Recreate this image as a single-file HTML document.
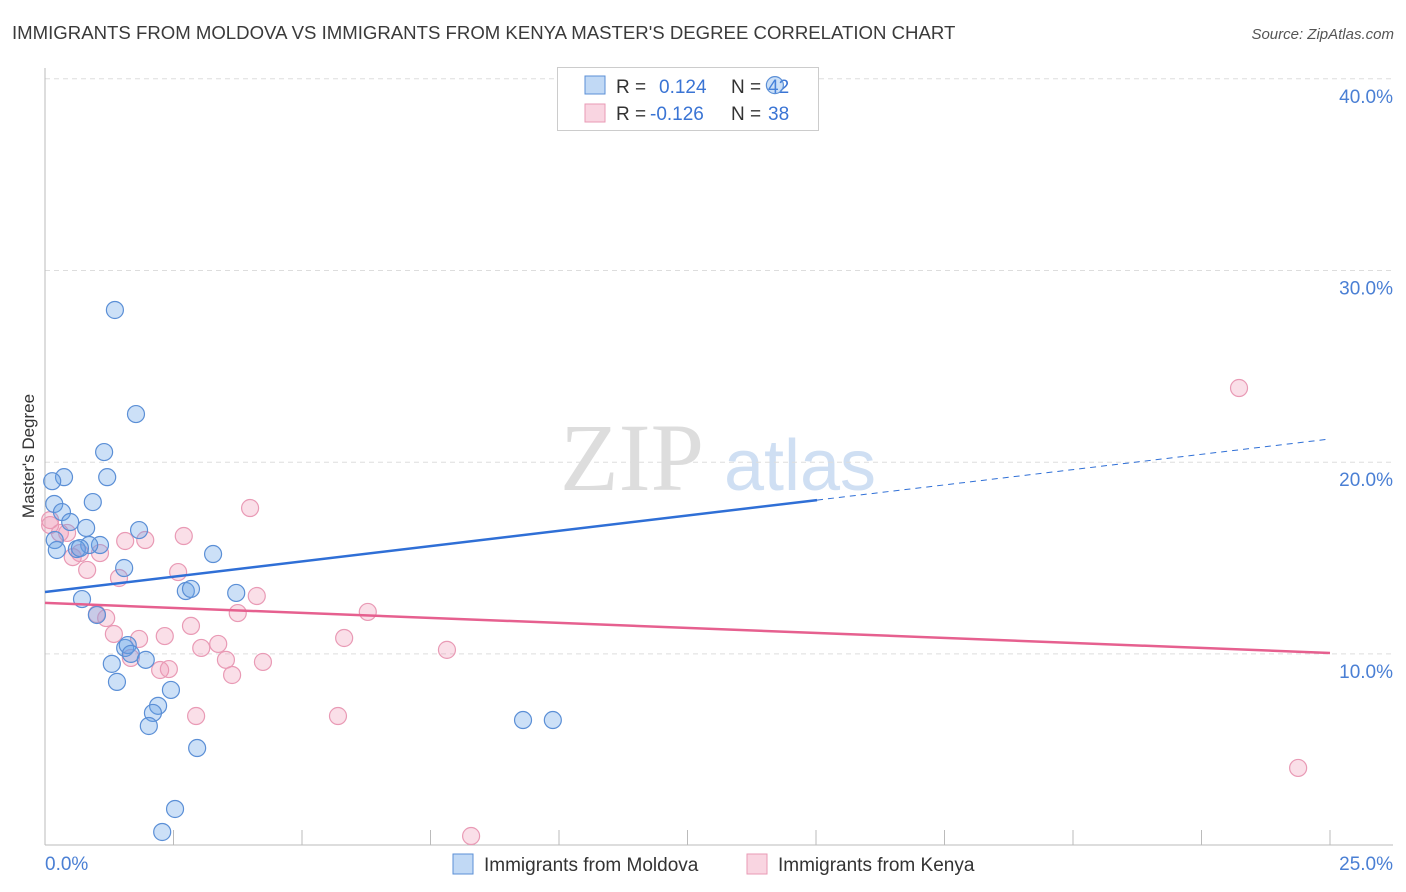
<!DOCTYPE html>
<html><head><meta charset="utf-8"><style>
body{margin:0;background:#fff;font-family:"Liberation Sans",sans-serif;}
svg{display:block}
</style></head><body>
<svg id="chart" width="1406" height="892">
<text x="12" y="39" font-size="18.6" fill="#3a3a3a">IMMIGRANTS FROM MOLDOVA VS IMMIGRANTS FROM KENYA MASTER'S DEGREE CORRELATION CHART</text>
<text x="1394" y="39" font-size="15" fill="#555" font-style="italic" text-anchor="end">Source: ZipAtlas.com</text>
<text x="632" y="490" font-size="96" fill="#ddd" font-family="Liberation Serif,serif" text-anchor="middle">ZIP</text>
<text x="800" y="490" font-size="72" fill="#cfdff3" text-anchor="middle">atlas</text>
<text transform="translate(34,456) rotate(-90)" font-size="17" fill="#333" text-anchor="middle">Master's Degree</text>
<g id="grid"></g>
<g>
<rect x="557.5" y="67.5" width="261" height="63" fill="#fff" stroke="#ccc"/>
<rect x="585" y="76" width="20" height="18" fill="rgba(100,160,230,0.4)" stroke="#5b8fd6"/>
<rect x="585" y="104" width="20" height="18" fill="rgba(240,150,180,0.4)" stroke="#e99ab5"/>
<text x="616" y="93" font-size="19" fill="#333">R = <tspan fill="#3a74d4" x="659">0.124</tspan><tspan fill="#333" x="731">N =</tspan><tspan fill="#3a74d4" x="768">42</tspan></text>
<text x="616" y="120" font-size="19" fill="#333">R = <tspan fill="#3a74d4" x="650">-0.126</tspan><tspan fill="#333" x="731">N =</tspan><tspan fill="#3a74d4" x="768">38</tspan></text>
</g>
<g id="marks"></g>
<g>
<rect x="453" y="854" width="20" height="20" fill="rgba(100,160,230,0.4)" stroke="#5b8fd6"/>
<text x="484" y="871" font-size="19" fill="#333">Immigrants from Moldova</text>
<rect x="747" y="854" width="20" height="20" fill="rgba(240,150,180,0.4)" stroke="#e99ab5"/>
<text x="778" y="871" font-size="19" fill="#333">Immigrants from Kenya</text>
</g>
</svg>
<script>
const blueX=[1.36,1.77,1.15,1.21,0.37,0.14,0.18,0.93,0.33,0.49,0.80,1.83,0.19,1.07,0.86,0.62,0.23,0.68,1.54,3.27,3.72,2.74,2.84,0.72,1.01,1.56,1.61,1.67,1.96,1.30,1.40,2.45,2.20,2.10,2.02,2.96,2.53,2.28,9.30,9.88,14.20];
const blueY=[27.94,22.51,20.53,19.22,19.22,19.01,17.82,17.92,17.40,16.88,16.57,16.46,15.94,15.68,15.68,15.47,15.42,15.52,14.48,15.21,13.18,13.28,13.39,12.86,12.03,10.31,10.46,10.00,9.69,9.48,8.54,8.12,7.29,6.92,6.24,5.09,1.91,0.71,6.55,6.55,39.67];
const pinkX=[0.10,0.10,0.29,0.43,0.68,0.54,1.07,0.82,1.44,1.95,1.56,2.70,3.99,2.59,4.12,3.75,1.19,1.01,1.34,1.83,2.33,2.84,3.37,3.04,3.52,4.24,3.64,2.24,2.41,1.67,2.94,5.70,5.82,6.28,7.82,8.29,23.23,24.38];
const pinkY=[16.98,16.72,16.31,16.31,15.26,15.05,15.26,14.38,13.96,15.94,15.89,16.15,17.61,14.27,13.02,12.13,11.87,12.08,11.04,10.78,10.93,11.46,10.52,10.31,9.69,9.58,8.90,9.16,9.21,9.79,6.76,6.76,10.83,12.19,10.21,0.50,23.87,4.05];
const blueTrend=[13.23,21.21];const blueSolidEnd=15.02;
const pinkTrend=[12.66,10.05];
const yTicks=[10,20,30,40];const yTickLabels=["10.0%","20.0%","30.0%","40.0%"];
const xTicks=[0,2.5,5,7.5,10,12.5,15,17.5,20,22.5,25];
const NS="http://www.w3.org/2000/svg";
const sx=v=>45+v*51.4, sy=v=>845.6-v*19.17;
function mk(t,a,p){const e=document.createElementNS(NS,t);for(const k in a)e.setAttribute(k,a[k]);p.appendChild(e);return e;}
const grid=document.getElementById('grid'),marks=document.getElementById('marks');
yTicks.forEach((t,i)=>{
 const l=mk('line',{x1:45,x2:1393,y1:sy(t),y2:sy(t),stroke:'#ddd','stroke-dasharray':'5,4'},grid);
 
 
 const tx=mk('text',{x:1393,y:sy(t)+24,'font-size':19,fill:'#4a7fd4','text-anchor':'end'},grid);tx.textContent=yTickLabels[i];
 
 
});
const ax=mk('line',{x1:45,x2:1393,y1:845,y2:845,stroke:'#bbb'},grid);


const ay=mk('line',{x1:45,x2:45,y1:68,y2:845,stroke:'#bbb'},grid);


xTicks.forEach(t=>{const l=mk('line',{x1:sx(t),x2:sx(t),y1:830,y2:845,stroke:'#bbb'},grid);
 
 });
const x0=mk('text',{x:45,y:870,'font-size':19,fill:'#4a7fd4'},grid);x0.textContent='0.0%';


const x1=mk('text',{x:1393,y:870,'font-size':19,fill:'#4a7fd4','text-anchor':'end'},grid);x1.textContent='25.0%';


pinkX.forEach((x,i)=>{const c=mk('circle',{cx:sx(x),cy:sy(pinkY[i]),r:8.5,fill:'rgba(240,150,180,0.3)',stroke:'#e99ab5','stroke-width':1.2},marks);
 
 });
blueX.forEach((x,i)=>{const c=mk('circle',{cx:sx(x),cy:sy(blueY[i]),r:8.5,fill:'rgba(100,160,230,0.33)',stroke:'#5b8fd6','stroke-width':1.2},marks);
 
 });
const by=x=>blueTrend[0]+(blueTrend[1]-blueTrend[0])*x/25;
const bl=mk('line',{x1:sx(0),y1:sy(by(0)),x2:sx(blueSolidEnd),y2:sy(by(blueSolidEnd)),stroke:'#2f6fd6','stroke-width':2.5},marks);


const bd=mk('line',{x1:sx(blueSolidEnd),y1:sy(by(blueSolidEnd)),x2:sx(25),y2:sy(by(25)),stroke:'#2f6fd6','stroke-width':1,'stroke-dasharray':'6,5'},marks);


const pl=mk('line',{x1:sx(0),y1:sy(pinkTrend[0]),x2:sx(25),y2:sy(pinkTrend[1]),stroke:'#e6608f','stroke-width':2.5},marks);


</script>
</body></html>
